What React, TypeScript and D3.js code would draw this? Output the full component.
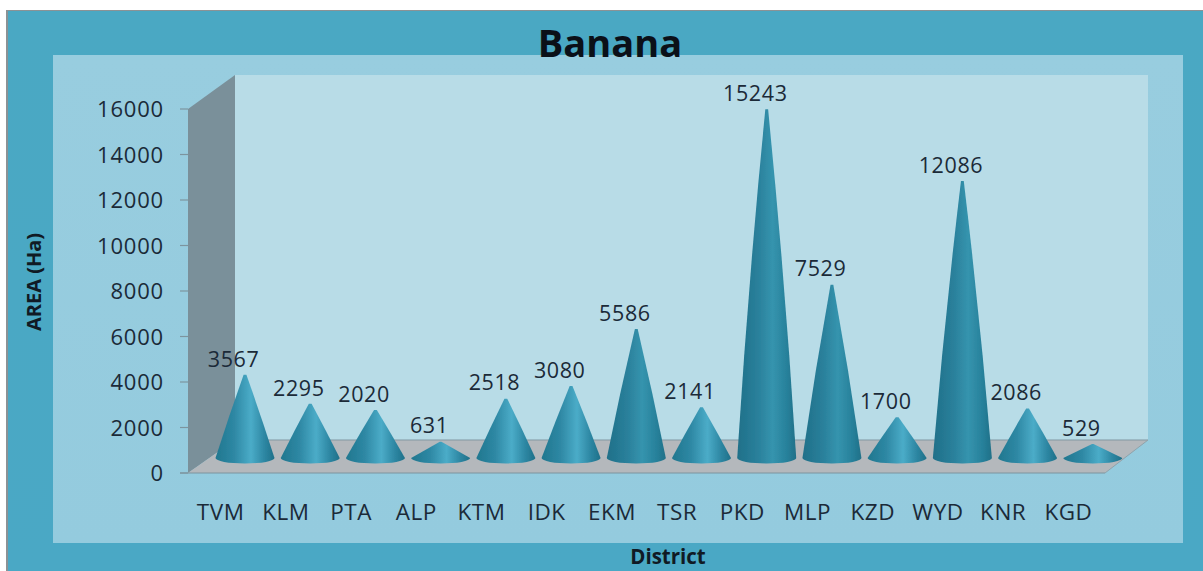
import React from "react";
import * as d3 from "d3";

const districts = ["TVM","KLM","PTA","ALP","KTM","IDK","EKM","TSR","PKD","MLP","KZD","WYD","KNR","KGD"];
const areas = [3567,2295,2020,631,2518,3080,5586,2141,15243,7529,1700,12086,2086,529];
const yTicks = [0,2000,4000,6000,8000,10000,12000,14000,16000];

const W = 1203, H = 571;
const FONT = "'Open Sans', sans-serif";
const INK = "#1b2a38";
const left = 188, right = 1105, floorFront = 473, top = 109;
const depthX = 47, depthY = 33;       // 3-D wall offset
const coneDX = 24.4, coneDY = 17;     // cone apex offset into the floor
const halfW = 29.5, ry = 5.5, baseDrop = 2;

const x = d3.scaleBand<string>().domain(districts).range([left, 1101]);
const y = d3.scaleLinear().domain([0, 16000]).range([floorFront, top]);

function conePath(cx: number, value: number) {
  const base = y(0) - coneDY + baseDrop;
  const apex = y(value) - coneDY;
  const h = base - apex;
  const tip = Math.min(1.4, h * 0.05);
  const bulge = h * 0.009;
  const p = d3.path();
  p.moveTo(cx - tip, apex);
  p.quadraticCurveTo(cx - (tip + halfW) / 2 - bulge, apex + h / 2, cx - halfW, base);
  const e = `A${halfW},${ry} 0 0 0 ${cx + halfW},${base}`;
  const q = d3.path();
  q.moveTo(cx + halfW, base);
  q.quadraticCurveTo(cx + (tip + halfW) / 2 + bulge, apex + h / 2, cx + tip, apex);
  return `${p.toString()}${e}${q.toString().replace(/^M[^Q]*/, "")}Z`;
}

export default function App() {
  const bw = x.bandwidth();
  return (
    <svg width={W} height={H} viewBox={`0 0 ${W} ${H}`}
      style={{ position: "fixed", left: 0, top: 0, display: "block", background: "#fff" }}>
      <defs>
        <filter id="soft" x="-5%" y="-5%" width="110%" height="110%">
          <feGaussianBlur stdDeviation="0.5" />
        </filter>
        <linearGradient id="outer" x1="0" x2="0" y1="0" y2="1">
          <stop offset="0" stopColor="#4aa8c3" /><stop offset="1" stopColor="#4aa8c5" />
        </linearGradient>
        <linearGradient id="panel" x1="0" x2="0" y1="0" y2="1">
          <stop offset="0" stopColor="#98cddf" /><stop offset="1" stopColor="#94cbde" />
        </linearGradient>
        <linearGradient id="coneShort" x1="0" x2="1" y1="0" y2="0">
          <stop offset="0" stopColor="#21778f" />
          <stop offset="0.32" stopColor="#2e88a4" />
          <stop offset="0.6" stopColor="#4bacc8" />
          <stop offset="0.82" stopColor="#2e88a4" />
          <stop offset="1" stopColor="#1f7089" />
        </linearGradient>
        <linearGradient id="coneTall" x1="0" x2="1" y1="0" y2="0">
          <stop offset="0" stopColor="#1f7089" />
          <stop offset="0.35" stopColor="#2a809b" />
          <stop offset="0.6" stopColor="#3594ae" />
          <stop offset="0.85" stopColor="#27809a" />
          <stop offset="1" stopColor="#1f7088" />
        </linearGradient>
      </defs>

      <rect x={6} y={10} width={W - 6} height={H - 10} fill="#8b9295" />
      <rect x={8} y={11} width={W - 8} height={H - 11} fill="url(#outer)" />
      <rect x={53} y={55} width={1130} height={488} fill="url(#panel)" />

      <rect x={left + depthX} y={top - depthY - 1} width={right + depthX - 4 - left - depthX} height={floorFront - top + 1} fill="#b8dce7" />
      <polygon points={[[left, top],[left + depthX, top - depthY - 1],[left + depthX, floorFront - depthY],[left, floorFront]].join(" ")} fill="#7a909a" />
      <polygon points={[[left, floorFront],[left + depthX, floorFront - depthY],[right + depthX - 4, floorFront - depthY],[right, floorFront]].join(" ")} fill="#b4b8bc" />
      <line x1={left + depthX} x2={right + depthX - 4} y1={floorFront - depthY} y2={floorFront - depthY} stroke="#8197a1" />
      <line x1={180} x2={right} y1={floorFront} y2={floorFront} stroke="#7d949e" strokeWidth={1.2} />
      <line x1={right} x2={right + depthX - 4} y1={floorFront} y2={floorFront - depthY} stroke="#8fa3ac" />

      {yTicks.map((t) => (
        <g key={t}>
          <line x1={180} x2={left} y1={y(t)} y2={y(t)} stroke="#7d949e" strokeWidth={1.2} />
          <text x={164} y={y(t) + 0.5} dy="0.36em" textAnchor="end" fontFamily={FONT} fontSize={22} letterSpacing={0.8} fill={INK}>{t}</text>
        </g>
      ))}

      {districts.map((d, i) => {
        const c = x(d)! + bw / 2;
        return (
          <g key={d}>
            <path d={conePath(c + coneDX, areas[i])} filter="url(#soft)" fill={areas[i] > 5000 ? "url(#coneTall)" : "url(#coneShort)"} />
            <text x={c + 13} y={y(areas[i]) - coneDY - 16} dy="0.36em" textAnchor="middle" fontFamily={FONT} fontSize={21.5} letterSpacing={0.6} fill={INK}>{areas[i]}</text>
            <text x={c} y={520} textAnchor="middle" fontFamily={FONT} fontSize={22.5} letterSpacing={0.5} fill={INK}>{d}</text>
          </g>
        );
      })}

      <text x={610} y={57} textAnchor="middle" fontFamily={FONT} fontWeight={700} fontSize={38} fill="#0b1018">Banana</text>
      <text transform="translate(41,282) rotate(-90)" textAnchor="middle" fontFamily={FONT} fontWeight={700} fontSize={20} fill="#101a24">AREA (Ha)</text>
      <text x={668} y={564} textAnchor="middle" fontFamily={FONT} fontWeight={700} fontSize={20.5} fill="#101a24">District</text>
    </svg>
  );
}
